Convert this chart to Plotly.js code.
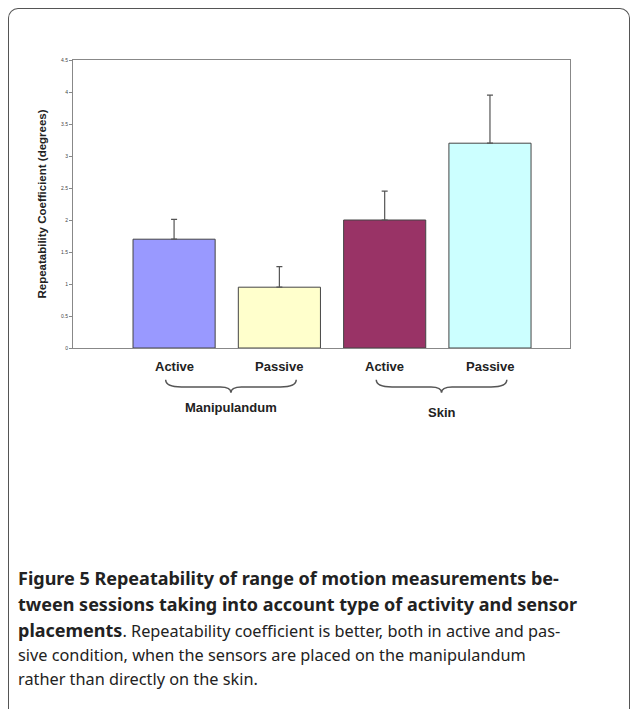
<!DOCTYPE html>
<html>
<head>
<meta charset="utf-8">
<script src="https://cdn.plot.ly/plotly-3.0.1.min.js"></script>
<style>
  body { margin: 0; background: #fff; }
  #card { position: absolute; left: 8px; top: 8px; width: 620px; height: 700px;
          border: 1px solid #555; border-bottom: none; border-radius: 10px 10px 0 0; }
  #chart { position: absolute; left: 0; top: 0; width: 636px; height: 470px; }
  #caption { position: absolute; left: 18px; top: 565px; width: 610px; white-space: nowrap;
             font-family: "Noto Sans", "Open Sans", sans-serif; font-size: 16.3px;
             line-height: 24px; color: #222; }
  #caption b { font-size: 18px; line-height: 26px; }
</style>
</head>
<body>
<div id="card"></div>
<div id="chart"></div>
<div id="caption"><b>Figure 5 Repeatability of range of motion measurements be-<br>tween sessions taking into account type of activity and sensor<br>placements</b>. Repeatability coefficient is better, both in active and pas-<br>sive condition, when the sensors are placed on the manipulandum<br>rather than directly on the skin.</div>
<script>
var conditions = ['Active', 'Passive', 'Active', 'Passive'];
var groups = ['Manipulandum', 'Skin'];
var coefValues = [1.7, 0.95, 2.0, 3.2];
var errUp = [0.31, 0.32, 0.45, 0.75];
var barColors = ['#9999ff', '#ffffcc', '#993366', '#ccffff'];
var yTicks = [0, 0.5, 1, 1.5, 2, 2.5, 3, 3.5, 4, 4.5];

var xs = conditions.map(function (c, i) { return i; });

var trace = {
  type: 'bar',
  x: xs,
  y: coefValues,
  width: 0.78,
  marker: { color: barColors, line: { color: '#444', width: 1 } },
  error_y: { type: 'data', array: errUp, arrayminus: [0, 0, 0, 0], symmetric: false,
             color: '#555', thickness: 1.2, width: 3 },
  hoverinfo: 'y'
};

var labelFont = { family: 'Liberation Sans, Arial', size: 13, color: '#222' };
var annotations = [];
xs.forEach(function (x, i) {
  annotations.push({ x: x, y: -0.03, xref: 'x', yref: 'paper', yanchor: 'top',
    text: '<b>' + conditions[i] + '</b>', showarrow: false, font: labelFont });
});

var shapes = [];
groups.forEach(function (g, k) {
  var a = xs[2 * k] - 0.08, b = xs[2 * k + 1] + 0.16, m = (a + b) / 2;
  var y0 = -0.11, y1 = -0.135, y2 = -0.155;
  shapes.push({ type: 'path', xref: 'x', yref: 'paper',
    path: 'M' + a + ',' + y0 + ' Q' + a + ',' + y1 + ' ' + (a + 0.15) + ',' + y1 +
          ' L' + (m - 0.1) + ',' + y1 + ' Q' + m + ',' + y1 + ' ' + m + ',' + y2 +
          ' Q' + m + ',' + y1 + ' ' + (m + 0.1) + ',' + y1 +
          ' L' + (b - 0.15) + ',' + y1 + ' Q' + b + ',' + y1 + ' ' + b + ',' + y0,
    line: { color: '#555', width: 1.5 } });
  annotations.push({ x: m, y: k === 0 ? -0.175 : -0.19, xref: 'x', yref: 'paper', yanchor: 'top',
    text: '<b>' + g + '</b>', showarrow: false, font: labelFont });
});

var layout = {
  width: 636, height: 470,
  margin: { l: 73, r: 66, t: 60, b: 122 },
  paper_bgcolor: 'rgba(0,0,0,0)', plot_bgcolor: '#fff',
  showlegend: false,
  xaxis: { range: [-0.96, 3.76], showticklabels: false, ticks: '', showgrid: false,
           zeroline: false, showline: true, linecolor: '#888', mirror: true },
  yaxis: { range: [0, 4.5], tickvals: yTicks, ticktext: yTicks.map(String), ticks: 'outside',
           ticklen: 3, tickcolor: '#888', showgrid: false, zeroline: false,
           showline: true, linecolor: '#888', mirror: true,
           tickfont: { family: 'Liberation Sans, Arial', size: 5, color: '#444' },
           title: { text: '<b>Repeatability Coefficient (degrees)</b>', standoff: 12,
                    font: { family: 'Liberation Sans, Arial', size: 11.5, color: '#222' } } },
  annotations: annotations,
  shapes: shapes
};

Plotly.newPlot('chart', [trace], layout, { displayModeBar: false, staticPlot: true });
</script>
</body>
</html>
